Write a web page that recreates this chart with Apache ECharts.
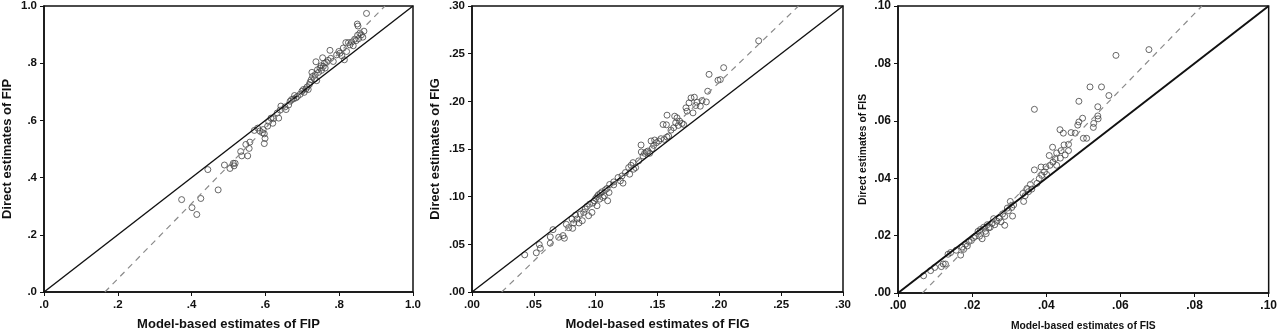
<!DOCTYPE html>
<html>
<head>
<meta charset="utf-8">
<script src="https://cdn.jsdelivr.net/npm/echarts@6/dist/echarts.min.js"></script>
<style>
html, body { margin: 0; padding: 0; background: #fff; }
#chart { width: 1280px; height: 336px; }
</style>
</head>
<body>
<div id="chart"></div>
<script>
// FIP panel
var fipTicks = ['.0', '.2', '.4', '.6', '.8', '1.0'];
var fipPoints = [
    [0.373, 0.323], [0.401, 0.295], [0.414, 0.271], [0.425, 0.327], [0.444, 0.428], [0.472, 0.357],
    [0.489, 0.444], [0.504, 0.432], [0.513, 0.450], [0.518, 0.450], [0.515, 0.441], [0.536, 0.476],
    [0.533, 0.491], [0.547, 0.516], [0.552, 0.476], [0.556, 0.502], [0.558, 0.524], [0.570, 0.565],
    [0.579, 0.573], [0.585, 0.563], [0.592, 0.557], [0.597, 0.553], [0.597, 0.519], [0.599, 0.537],
    [0.594, 0.568], [0.606, 0.580], [0.609, 0.596], [0.615, 0.608], [0.620, 0.590], [0.622, 0.606],
    [0.636, 0.608], [0.632, 0.626], [0.640, 0.636], [0.642, 0.650], [0.653, 0.647], [0.656, 0.638],
    [0.663, 0.654], [0.667, 0.667], [0.671, 0.673], [0.676, 0.675], [0.679, 0.687], [0.683, 0.679],
    [0.687, 0.684], [0.694, 0.691], [0.699, 0.702], [0.703, 0.708], [0.705, 0.698], [0.710, 0.710],
    [0.713, 0.717], [0.716, 0.708], [0.719, 0.725], [0.721, 0.733], [0.724, 0.742], [0.728, 0.754],
    [0.726, 0.768], [0.733, 0.745], [0.735, 0.760], [0.737, 0.805], [0.739, 0.739], [0.741, 0.777],
    [0.744, 0.768], [0.748, 0.783], [0.751, 0.791], [0.755, 0.819], [0.752, 0.775], [0.757, 0.789],
    [0.760, 0.800], [0.762, 0.783], [0.766, 0.803], [0.770, 0.810], [0.775, 0.845], [0.777, 0.817],
    [0.784, 0.806], [0.793, 0.829], [0.799, 0.841], [0.802, 0.835], [0.807, 0.826], [0.814, 0.812],
    [0.811, 0.853], [0.818, 0.872], [0.820, 0.841], [0.825, 0.872], [0.829, 0.864], [0.834, 0.874],
    [0.838, 0.861], [0.842, 0.884], [0.846, 0.879], [0.849, 0.937], [0.851, 0.930], [0.850, 0.898],
    [0.853, 0.886], [0.856, 0.905], [0.860, 0.899], [0.864, 0.891], [0.867, 0.912], [0.874, 0.974]
];
var fipFit = [[0.165, 0], [0.924, 1.0]];

// FIG panel
var figTicks = ['.00', '.05', '.10', '.15', '.20', '.25', '.30'];
var figPoints = [
    [0.0426, 0.0390], [0.0520, 0.0411], [0.0544, 0.0498], [0.0553, 0.0459], [0.0633, 0.0578], [0.0633, 0.0512],
    [0.0655, 0.0654], [0.0701, 0.0574], [0.0736, 0.0592], [0.0747, 0.0564], [0.0763, 0.0710], [0.0782, 0.0675],
    [0.0809, 0.0766], [0.0814, 0.0668], [0.0822, 0.0724], [0.0838, 0.0807], [0.0849, 0.0766], [0.0865, 0.0724],
    [0.0876, 0.0818], [0.0892, 0.0748], [0.0903, 0.0835], [0.0916, 0.0870], [0.0930, 0.0898], [0.0943, 0.0800],
    [0.0951, 0.0922], [0.0970, 0.0835], [0.0978, 0.0933], [0.0989, 0.0957], [0.1000, 0.0981], [0.1011, 0.0905],
    [0.1011, 0.0999], [0.1022, 0.1020], [0.1032, 0.0974], [0.1038, 0.1034], [0.1051, 0.1051], [0.1059, 0.0992],
    [0.1070, 0.1009], [0.1078, 0.1072], [0.1097, 0.0957], [0.1092, 0.1086], [0.1108, 0.1044], [0.1113, 0.1128],
    [0.1146, 0.1155], [0.1146, 0.1124], [0.1181, 0.1201], [0.1200, 0.1166], [0.1213, 0.1218], [0.1221, 0.1142],
    [0.1240, 0.1253], [0.1267, 0.1305], [0.1275, 0.1236], [0.1286, 0.1329], [0.1302, 0.1357], [0.1307, 0.1288],
    [0.1323, 0.1305], [0.1348, 0.1375], [0.1367, 0.1542], [0.1369, 0.1469], [0.1383, 0.1427], [0.1396, 0.1455],
    [0.1410, 0.1469], [0.1423, 0.1479], [0.1437, 0.1455], [0.1448, 0.1584], [0.1456, 0.1504], [0.1469, 0.1538],
    [0.1477, 0.1594], [0.1491, 0.1566], [0.1510, 0.1584], [0.1528, 0.1608], [0.1555, 0.1601], [0.1577, 0.1855],
    [0.1577, 0.1625], [0.1545, 0.1757], [0.1572, 0.1754], [0.1590, 0.1636], [0.1609, 0.1698], [0.1631, 0.1723],
    [0.1639, 0.1844], [0.1647, 0.1775], [0.1658, 0.1827], [0.1668, 0.1747], [0.1679, 0.1792], [0.1698, 0.1768],
    [0.1712, 0.1757], [0.1730, 0.1932], [0.1739, 0.1897], [0.1755, 0.1984], [0.1771, 0.2036], [0.1787, 0.1879],
    [0.1798, 0.2043], [0.1809, 0.1956], [0.1820, 0.1991], [0.1846, 0.1949], [0.1860, 0.2008], [0.1895, 0.1994],
    [0.1906, 0.2106], [0.1917, 0.2283], [0.1989, 0.2221], [0.2008, 0.2228], [0.2035, 0.2353], [0.2318, 0.2635]
];
var figFit = [[0.024, 0], [0.264, 0.30]];

// FIS panel
var fisTicks = ['.00', '.02', '.04', '.06', '.08', '.10'];
var fisPoints = [
    [0.0069, 0.0060], [0.0088, 0.0078], [0.0099, 0.0089], [0.0117, 0.0092], [0.0122, 0.0101], [0.0128, 0.0101],
    [0.0135, 0.0135], [0.0142, 0.0141], [0.0157, 0.0149], [0.0169, 0.0132], [0.0173, 0.0160], [0.0177, 0.0152],
    [0.0182, 0.0170], [0.0187, 0.0164], [0.0191, 0.0179], [0.0198, 0.0183], [0.0204, 0.0193], [0.0209, 0.0198],
    [0.0216, 0.0215], [0.0220, 0.0198], [0.0222, 0.0221], [0.0227, 0.0189], [0.0231, 0.0229], [0.0236, 0.0215],
    [0.0238, 0.0207], [0.0241, 0.0238], [0.0245, 0.0227], [0.0249, 0.0229], [0.0254, 0.0243], [0.0258, 0.0259],
    [0.0261, 0.0238], [0.0267, 0.0250], [0.0273, 0.0261], [0.0278, 0.0248], [0.0282, 0.0275], [0.0288, 0.0236],
    [0.0288, 0.0267], [0.0295, 0.0296], [0.0298, 0.0287], [0.0303, 0.0319], [0.0307, 0.0298], [0.0309, 0.0268],
    [0.0312, 0.0307], [0.0337, 0.0347], [0.0339, 0.0319], [0.0343, 0.0339], [0.0348, 0.0364], [0.0352, 0.0353],
    [0.0357, 0.0378], [0.0361, 0.0362], [0.0368, 0.0429], [0.0368, 0.0640], [0.0375, 0.0382], [0.0381, 0.0399],
    [0.0386, 0.0439], [0.0388, 0.0410], [0.0395, 0.0422], [0.0399, 0.0439], [0.0401, 0.0413], [0.0408, 0.0479],
    [0.0410, 0.0445], [0.0417, 0.0508], [0.0418, 0.0456], [0.0424, 0.0468], [0.0428, 0.0488], [0.0428, 0.0445],
    [0.0437, 0.0569], [0.0440, 0.0496], [0.0438, 0.0470], [0.0446, 0.0557], [0.0448, 0.0516], [0.0451, 0.0481],
    [0.0460, 0.0518], [0.0460, 0.0496], [0.0467, 0.0559], [0.0478, 0.0557], [0.0485, 0.0585], [0.0488, 0.0668],
    [0.0488, 0.0596], [0.0498, 0.0609], [0.0500, 0.0539], [0.0509, 0.0539], [0.0518, 0.0718], [0.0527, 0.0577],
    [0.0528, 0.0591], [0.0539, 0.0617], [0.0539, 0.0649], [0.0540, 0.0607], [0.0549, 0.0718], [0.0569, 0.0688],
    [0.0588, 0.0828], [0.0677, 0.0848]
];
var fisFit = [[0.0066, 0], [0.082, 0.10]];

var font = '"Liberation Sans", Arial, sans-serif';

var panels = [
    { grid: { left: 44, top: 6, width: 369, height: 287 }, max: 1, step: 0.2, ticks: fipTicks,
      xName: 'Model-based estimates of FIP', yName: 'Direct estimates of FIP', nameSize: 13, tickSize: 11.5,
      points: fipPoints, fit: fipFit, diag: 1.4 },
    { grid: { left: 472, top: 6, width: 371, height: 287 }, max: 0.3, step: 0.05, ticks: figTicks,
      xName: 'Model-based estimates of FIG', yName: 'Direct estimates of FIG', nameSize: 13, tickSize: 11.5,
      points: figPoints, fit: figFit, diag: 1.4 },
    { grid: { left: 898, top: 5, width: 373, height: 291 }, max: 0.1, step: 0.02, ticks: fisTicks,
      xName: 'Model-based estimates of FIS', yName: 'Direct estimates of FIS', nameSize: 10.3, tickSize: 12,
      points: fisPoints, fit: fisFit, diag: 2 }
];

var option = { animation: false, grid: [], xAxis: [], yAxis: [], series: [] };

panels.forEach(function (p, i) {
    option.grid.push(Object.assign({ show: true, borderColor: '#111', borderWidth: 1.5, backgroundColor: '#fff' }, p.grid));
    var axis = function (name, gap) {
        return {
            type: 'value', gridIndex: i, min: 0, max: p.max, interval: p.step,
            name: name, nameLocation: 'middle', nameGap: gap,
            nameTextStyle: { fontFamily: font, fontWeight: 'bold', fontSize: p.nameSize, color: '#111' },
            axisLine: { show: true, lineStyle: { color: '#111', width: 1.5 } },
            axisTick: { show: true, inside: false, length: 4, lineStyle: { color: '#111', width: 1 } },
            axisLabel: {
                margin: 7, fontFamily: font, fontWeight: 'bold', fontSize: p.tickSize, color: '#111',
                formatter: function (v) { return p.ticks[Math.round(v / p.step)]; }
            },
            splitLine: { show: false }
        };
    };
    option.xAxis.push(axis(p.xName, i === 2 ? 28 : 26));
    option.yAxis.push(axis(p.yName, 30));
    option.series.push({
        type: 'line', xAxisIndex: i, yAxisIndex: i, data: [[0, 0], [p.max, p.max]],
        symbol: 'none', silent: true, lineStyle: { color: '#111', width: p.diag }
    });
    option.series.push({
        type: 'line', xAxisIndex: i, yAxisIndex: i, data: p.fit,
        symbol: 'none', silent: true, lineStyle: { color: '#8a8a8a', width: 1.2, type: [6, 5] }
    });
    option.series.push({
        type: 'scatter', xAxisIndex: i, yAxisIndex: i, data: p.points,
        symbol: 'circle', symbolSize: 6,
        itemStyle: { color: 'rgba(255,255,255,0)', borderColor: '#444', borderWidth: 1 }
    });
});

var myChart = echarts.init(document.getElementById('chart'));
myChart.setOption(option);
</script>
</body>
</html>
